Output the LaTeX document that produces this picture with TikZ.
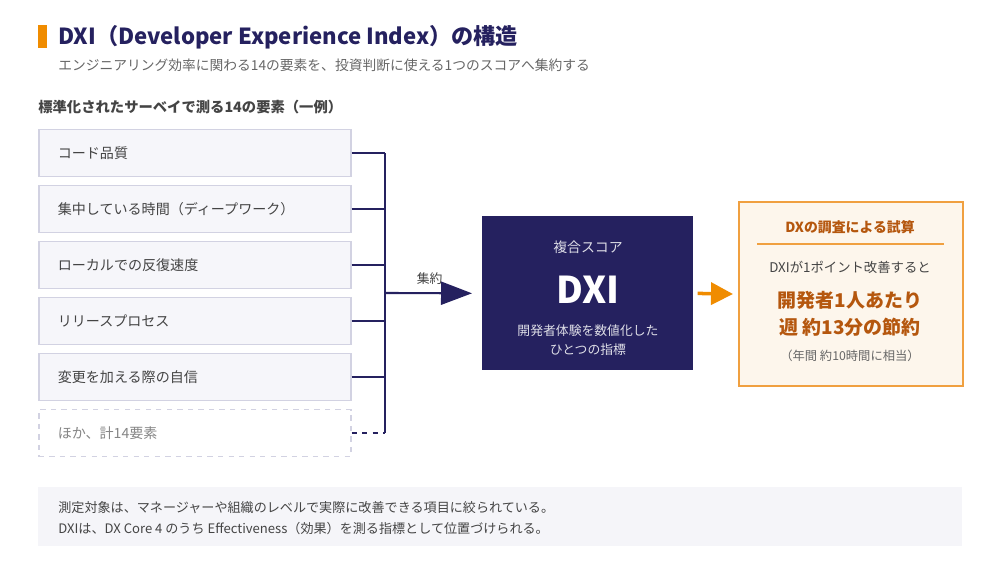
\documentclass[tikz,border=0pt]{standalone}
\usepackage{fontspec}
\setmainfont{Noto Sans CJK JP}
\usetikzlibrary{positioning,arrows.meta}

\definecolor{navy}{HTML}{25215F}
\definecolor{accent}{HTML}{F08C00}
\definecolor{rustbrown}{HTML}{B5570E}
\definecolor{inkgray}{HTML}{444444}
\definecolor{softgray}{HTML}{666666}
\definecolor{itemfill}{HTML}{F6F6FA}
\definecolor{itemline}{HTML}{D2D2E2}
\definecolor{notefill}{HTML}{F5F5F9}
\definecolor{resfill}{HTML}{FDF6EC}
\definecolor{resline}{HTML}{F0A040}

\newcommand{\fs}[1]{\fontsize{#1}{1.25\dimexpr#1\relax}\selectfont}

\begin{document}
\begin{tikzpicture}[x=0.02cm,y=-0.02cm,
    item/.style={draw=itemline,line width=0.9pt,fill=itemfill,anchor=west,
      minimum width=6.24cm,minimum height=0.94cm,inner xsep=0.38cm,
      text width=5.48cm,align=left,text=inkgray,font=\fs{8pt}},
    wire/.style={navy,line width=1.2pt},
    txt/.style={inner sep=0pt,anchor=west}]
\useasboundingbox (0,0) rectangle (1000,575);

% heading
\fill[accent] (38,25) rectangle (47,48);
\node[txt,text=navy,font=\bfseries\fs{12.6pt}] (title) at (58,37)
  {DXI（Developer Experience Index）の構造};
\node[txt,text=softgray,font=\fs{7.83pt}] (sub) at (58,65)
  {エンジニアリング効率に関わる14の要素を、投資判断に使える1つのスコアへ集約する};
\node[txt,text=inkgray,font=\bfseries\fs{8.15pt}] (sect) at (38,107)
  {標準化されたサーベイで測る14の要素（一例）};

% the items
\node[item] (i1) at (38,153) {コード品質};
\node[item] (i2) at (38,209) {集中している時間（ディープワーク）};
\node[item] (i3) at (38,265) {ローカルでの反復速度};
\node[item] (i4) at (38,321) {リリースプロセス};
\node[item] (i5) at (38,377) {変更を加える際の自信};
\node[item,dashed,fill=white,text=softgray!80] (i6) at (38,433) {ほか、計14要素};

% bus
\coordinate (bus) at (385,293);
\foreach \i in {1,...,5}
  \draw[wire] (i\i.east) -- (i\i.east -| bus);
\draw[wire,dashed] (i6.east) -- (i6.east -| bus);
\draw[wire] (i1.east -| bus) -- (i6.east -| bus);

% score box
\node[fill=navy,minimum width=4.22cm,minimum height=3.08cm,anchor=north west]
  (dxi) at (482,216) {};
\node[text=white!85!navy,font=\fs{7.9pt}] (dxicap) at (588,247) {複合スコア};
\node[text=white,font=\bfseries\fs{21pt}] (dxiname) at (588,290) {DXI};
\node[text=white!85!navy,font=\fs{7.3pt},align=center] (dxidesc) at (588,340)
  {開発者体験を数値化した\\[1.5pt]ひとつの指標};

\draw[wire,-{Triangle[length=0.62cm,width=0.46cm]},shorten >=0.2cm] (bus) -- (dxi.west)
  node[pos=0.46,above=1pt,text=inkgray,font=\fs{7.3pt}] (agg) {集約};

% estimate box
\node[draw=resline,line width=1.3pt,fill=resfill,minimum width=4.48cm,
  minimum height=3.68cm,anchor=north west] (res) at (738,201) {};
\node[text=rustbrown,font=\bfseries\fs{7.9pt}] (restitle) at (850,227) {DXの調査による試算};
\draw[resline,line width=0.6pt] (757,244) -- (944,244);
\node[text=inkgray,font=\fs{7.6pt}] (resif) at (850,267) {DXIが1ポイント改善すると};
\node[text=rustbrown,font=\bfseries\fs{10.8pt},align=center] (resmain) at (850,314)
  {開発者1人あたり\\[1.5pt]週 約13分の節約};
\node[text=softgray,font=\fs{7pt}] (resnote) at (850,356) {（年間 約10時間に相当）};

\draw[accent,line width=2pt,-{Triangle[length=0.44cm,width=0.44cm]},
  shorten <=0.08cm,shorten >=0.1cm] (dxi.east) -- (res.west);

% note
\fill[notefill] (38,487) rectangle (962,546);
\node[txt,text=inkgray,font=\fs{7.45pt}] (note1) at (58,508)
  {測定対象は、マネージャーや組織のレベルで実際に改善できる項目に絞られている。};
\node[txt,text=inkgray,font=\fs{7.45pt}] (note2) at (58,529)
  {DXIは、DX Core 4 のうち Effectiveness（効果）を測る指標として位置づけられる。};
\end{tikzpicture}
\end{document}
